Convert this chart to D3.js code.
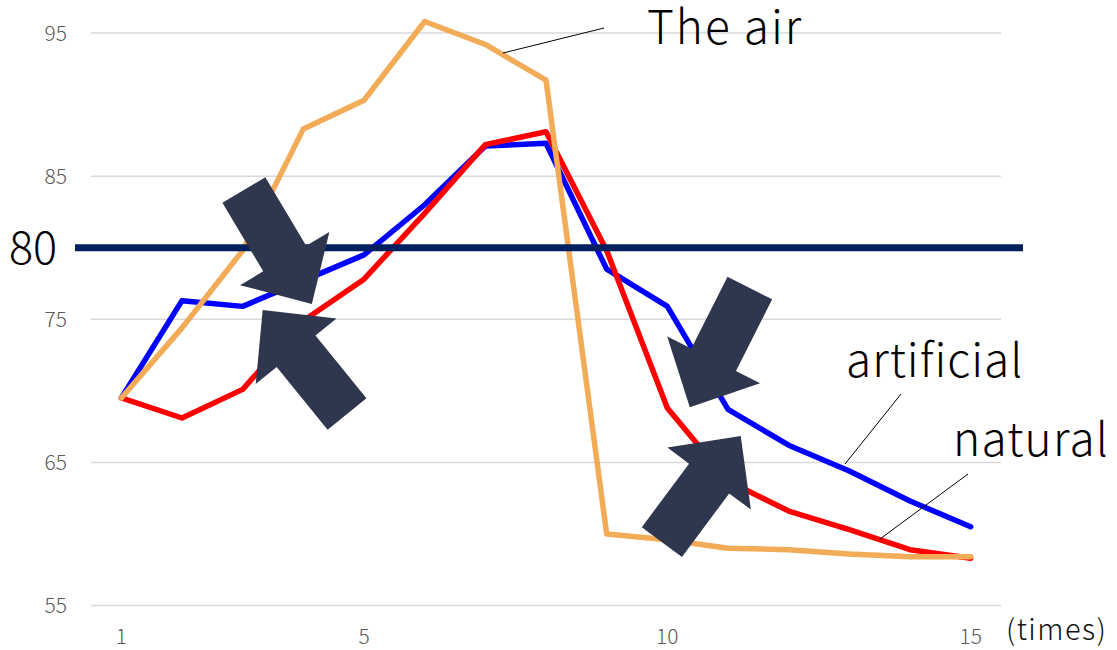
<!DOCTYPE html>
<html>
<head>
<meta charset="utf-8">
<script src="https://cdn.jsdelivr.net/npm/d3@7"></script>
<style>
  html, body { margin: 0; padding: 0; background: #fff; }
  svg { display: block; font-family: "Noto Sans CJK JP", "Noto Sans", sans-serif; font-weight: 300; }
</style>
</head>
<body>
<div id="chart"></div>
<script>
// measurement number 1..15
const times = d3.range(1, 16);
const airValues = [69.5, 74.4, 79.8, 88.3, 90.3, 95.8, 94.2, 91.7, 60.0, 59.6, 59.0, 58.9, 58.6, 58.4, 58.4];
const artificialValues = [69.5, 76.3, 75.9, 77.7, 79.5, 83.0, 87.1, 87.3, 78.5, 75.9, 68.7, 66.2, 64.4, 62.3, 60.5];
const naturalValues = [69.5, 68.1, 70.1, 74.9, 77.8, 82.4, 87.2, 88.1, 79.8, 68.8, 63.7, 61.6, 60.3, 58.9, 58.3];

const yTicks = [55, 65, 75, 85, 95];
const xTicks = [1, 5, 10, 15];
const threshold = 80;

// block arrows, tail -> tip, in data units
const arrows = [
  { tail: [3.02, 84.03], tip: [4.14, 76.06] },
  { tail: [4.72, 68.38], tip: [3.33, 75.64] },
  { tail: [11.36, 77.18], tip: [10.37, 68.86] },
  { tail: [9.91, 59.43], tip: [11.21, 66.84] },
];

const W = 1117, H = 650;
const svg = d3.select('#chart').append('svg')
  .attr('width', W)
  .attr('height', H);

const x = d3.scaleLinear().domain([0.5, 15.5]).range([91, 1001]);
const y = d3.scaleLinear().domain([55, 95]).range([605.5, 33]);

// gridlines
svg.append('g')
  .selectAll('line')
  .data(yTicks)
  .join('line')
  .attr('x1', x(0.5))
  .attr('x2', x(15.5))
  .attr('y1', (d) => y(d))
  .attr('y2', (d) => y(d))
  .attr('stroke', '#d9d9d9')
  .attr('stroke-width', 1.5);

// y labels
svg.append('g')
  .selectAll('text')
  .data(yTicks)
  .join('text')
  .attr('x', 67)
  .attr('y', (d) => y(d))
  .attr('dy', '0.36em')
  .attr('text-anchor', 'end')
  .attr('fill', '#595959')
  .attr('font-size', 21)
  .text((d) => d);

// x labels
svg.append('g')
  .selectAll('text')
  .data(xTicks)
  .join('text')
  .attr('x', (d) => x(d))
  .attr('y', 644)
  .attr('text-anchor', 'middle')
  .attr('fill', '#595959')
  .attr('font-size', 21)
  .text((d) => d);

svg.append('text')
  .attr('x', 1006)
  .attr('y', 640)
  .attr('font-size', 29)
  .attr('letter-spacing', 1.5)
  .attr('fill', '#111')
  .text('(times)');

const line = d3.line()
  .x((d, i) => x(times[i]))
  .y((d) => y(d));

const series = [
  { values: artificialValues, color: '#0000ff' },
  { values: naturalValues, color: '#ff0000' },
  { values: airValues, color: '#f2ab57' },
];

svg.append('g')
  .selectAll('path')
  .data(series)
  .join('path')
  .attr('d', (d) => line(d.values))
  .attr('fill', 'none')
  .attr('stroke', (d) => d.color)
  .attr('stroke-width', 5.5)
  .attr('stroke-linejoin', 'round')
  .attr('stroke-linecap', 'round');

// threshold line
svg.append('line')
  .attr('x1', x(0.5) - 16)
  .attr('x2', x(15.5) + 22)
  .attr('y1', y(threshold))
  .attr('y2', y(threshold))
  .attr('stroke', '#002060')
  .attr('stroke-width', 7);

svg.append('text')
  .attr('x', 9)
  .attr('y', y(threshold))
  .attr('dy', '0.36em')
  .attr('font-size', 45)
  .attr('fill', '#000')
  .text(threshold);

// series labels with leader lines
const labels = [
  { text: 'The air', x: 647, y: 44, spacing: 2, leader: [[503, 53], [604, 28]] },
  { text: 'artificial', x: 846, y: 377, spacing: 1, leader: [[845, 464], [901, 394]] },
  { text: 'natural', x: 953, y: 456, spacing: 1.2, leader: [[880, 539], [968, 474]] },
];

const labelG = svg.append('g');
labelG.selectAll('line')
  .data(labels)
  .join('line')
  .attr('x1', (d) => d.leader[0][0])
  .attr('y1', (d) => d.leader[0][1])
  .attr('x2', (d) => d.leader[1][0])
  .attr('y2', (d) => d.leader[1][1])
  .attr('stroke', '#000')
  .attr('stroke-width', 1);

labelG.selectAll('text')
  .data(labels)
  .join('text')
  .attr('x', (d) => d.x)
  .attr('y', (d) => d.y)
  .attr('font-size', 46)
  .attr('letter-spacing', (d) => d.spacing)
  .attr('fill', '#000')
  .text((d) => d.text);

// block arrows
function arrowPoints(d) {
  const [tx, ty] = [x(d.tail[0]), y(d.tail[1])];
  const [px, py] = [x(d.tip[0]), y(d.tip[1])];
  const len = Math.hypot(px - tx, py - ty);
  const ux = (px - tx) / len, uy = (py - ty) / len;
  const nx = -uy, ny = ux;
  const sw = 25, hw = 52, hl = 53;
  const bx = px - ux * hl, by = py - uy * hl;
  return [
    [tx + nx * sw, ty + ny * sw],
    [bx + nx * sw, by + ny * sw],
    [bx + nx * hw, by + ny * hw],
    [px, py],
    [bx - nx * hw, by - ny * hw],
    [bx - nx * sw, by - ny * sw],
    [tx - nx * sw, ty - ny * sw],
  ].map((p) => p.join(',')).join(' ');
}

svg.append('g')
  .selectAll('polygon')
  .data(arrows)
  .join('polygon')
  .attr('points', arrowPoints)
  .attr('fill', '#2f374f');
</script>
</body>
</html>
